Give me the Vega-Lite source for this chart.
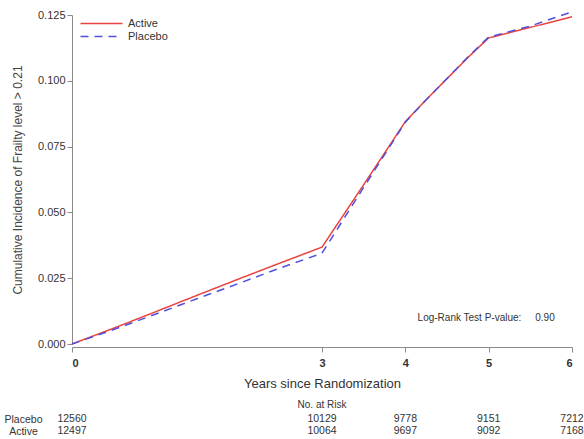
{
  "$schema": "https://vega.github.io/schema/vega-lite/v6.json",
  "background": "white",
  "padding": {"left": 4, "top": 8, "right": 0, "bottom": 0},
  "config": {
    "view": {"stroke": null},
    "font": "Liberation Sans",
    "axis": {"grid": false, "domainColor": "#8a8a8a", "tickColor": "#8a8a8a", "labelFont": "Liberation Sans", "titleFont": "Liberation Sans"}
  },
  "datasets": {
    "cif": [
      {"year": 0, "cif": 0, "group": "Active"},
      {"year": 0.5, "cif": 0.006, "group": "Active"},
      {"year": 1, "cif": 0.0122, "group": "Active"},
      {"year": 1.5, "cif": 0.0185, "group": "Active"},
      {"year": 2, "cif": 0.0247, "group": "Active"},
      {"year": 2.5, "cif": 0.0308, "group": "Active"},
      {"year": 3, "cif": 0.0368, "group": "Active"},
      {"year": 3.5, "cif": 0.0605, "group": "Active"},
      {"year": 4, "cif": 0.0845, "group": "Active"},
      {"year": 4.25, "cif": 0.0928, "group": "Active"},
      {"year": 4.5, "cif": 0.1008, "group": "Active"},
      {"year": 4.75, "cif": 0.1088, "group": "Active"},
      {"year": 5, "cif": 0.1163, "group": "Active"},
      {"year": 5.5, "cif": 0.1203, "group": "Active"},
      {"year": 6, "cif": 0.1243, "group": "Active"},
      {"year": 0, "cif": 0, "group": "Placebo"},
      {"year": 0.5, "cif": 0.0055, "group": "Placebo"},
      {"year": 1, "cif": 0.0113, "group": "Placebo"},
      {"year": 1.5, "cif": 0.0172, "group": "Placebo"},
      {"year": 2, "cif": 0.023, "group": "Placebo"},
      {"year": 2.5, "cif": 0.0289, "group": "Placebo"},
      {"year": 3, "cif": 0.0345, "group": "Placebo"},
      {"year": 3.5, "cif": 0.0595, "group": "Placebo"},
      {"year": 4, "cif": 0.0843, "group": "Placebo"},
      {"year": 4.25, "cif": 0.0928, "group": "Placebo"},
      {"year": 4.5, "cif": 0.1009, "group": "Placebo"},
      {"year": 4.75, "cif": 0.109, "group": "Placebo"},
      {"year": 5, "cif": 0.1166, "group": "Placebo"},
      {"year": 5.5, "cif": 0.1208, "group": "Placebo"},
      {"year": 6, "cif": 0.1262, "group": "Placebo"}
    ],
    "risk": [
      {"year": 0, "group": "Placebo", "n": 12560},
      {"year": 3, "group": "Placebo", "n": 10129},
      {"year": 4, "group": "Placebo", "n": 9778},
      {"year": 5, "group": "Placebo", "n": 9151},
      {"year": 6, "group": "Placebo", "n": 7212},
      {"year": 0, "group": "Active", "n": 12497},
      {"year": 3, "group": "Active", "n": 10064},
      {"year": 4, "group": "Active", "n": 9697},
      {"year": 5, "group": "Active", "n": 9092},
      {"year": 6, "group": "Active", "n": 7168}
    ]
  },
  "spacing": 10,
  "resolve": {"scale": {"x": "independent", "y": "independent"}},
  "vconcat": [
    {
      "width": 500,
      "height": 329,
      "layer": [
        {
          "data": {"name": "cif"},
          "mark": {"type": "line", "strokeWidth": 1.5, "clip": false},
          "encoding": {
            "x": {
              "field": "year", "type": "quantitative",
              "scale": {"domain": [0, 6], "nice": false},
              "axis": {
                "values": [0, 3, 4, 5, 6], "format": "d", "offset": 3,
                "tickSize": 5, "labelPadding": 5, "labelFontSize": 11, "labelFontWeight": "bold", "labelColor": "#333",
                "title": "Years since Randomization", "titleFontSize": 13, "titleFontWeight": "normal", "titleColor": "#333", "titlePadding": 9
              }
            },
            "y": {
              "field": "cif", "type": "quantitative",
              "scale": {"domain": [0, 0.125], "nice": false},
              "axis": {
                "values": [0, 0.025, 0.05, 0.075, 0.1, 0.125], "format": ".3f",
                "tickSize": 5, "labelPadding": 2, "labelFontSize": 11, "labelColor": "#333",
                "title": "Cumulative Incidence of Frailty level > 0.21", "titleFontSize": 12, "titleFontWeight": "normal", "titleColor": "#444", "titlePadding": 13
              }
            },
            "color": {
              "field": "group", "type": "nominal",
              "scale": {"domain": ["Active", "Placebo"], "range": ["#e8433f", "#5050dc"]},
              "legend": {
                "title": null, "orient": "none", "legendX": 7, "legendY": 3, "padding": 0,
                "symbolType": "M-1,0H9.5", "symbolSize": 64, "symbolStrokeWidth": 1.5,
                "labelFontSize": 11, "labelColor": "#333", "labelOffset": 38, "rowPadding": 1
              }
            },
            "strokeDash": {
              "field": "group", "type": "nominal",
              "scale": {"domain": ["Active", "Placebo"], "range": [[1, 0], [8, 6]]},
              "legend": {"title": null}
            }
          }
        },
        {
          "data": {"values": [{}]},
          "mark": {"type": "text", "fontSize": 10, "color": "#333", "align": "center", "baseline": "middle"},
          "encoding": {
            "x": {"datum": 4.97, "type": "quantitative"},
            "y": {"datum": 0.0099, "type": "quantitative"},
            "text": {"value": "Log-Rank Test P-value:\u00a0\u00a0\u00a0\u00a0 0.90"}
          }
        }
      ]
    },
    {
      "width": 500,
      "height": 24,
      "data": {"name": "risk"},
      "title": {"text": "No. at Risk", "fontSize": 10, "fontWeight": "normal", "color": "#333", "anchor": "middle", "offset": 3},
      "mark": {"type": "text", "fontSize": 10.5, "color": "#333"},
      "encoding": {
        "x": {"field": "year", "type": "quantitative", "scale": {"domain": [0, 6], "nice": false}, "axis": null},
        "y": {
          "field": "group", "type": "nominal", "sort": ["Placebo", "Active"],
          "axis": {"title": null, "domain": false, "ticks": false, "tickSize": 0, "labelAlign": "center", "labelPadding": 49, "labelFontSize": 10.5, "labelColor": "#333"}
        },
        "text": {"field": "n", "type": "nominal"}
      }
    }
  ]
}
